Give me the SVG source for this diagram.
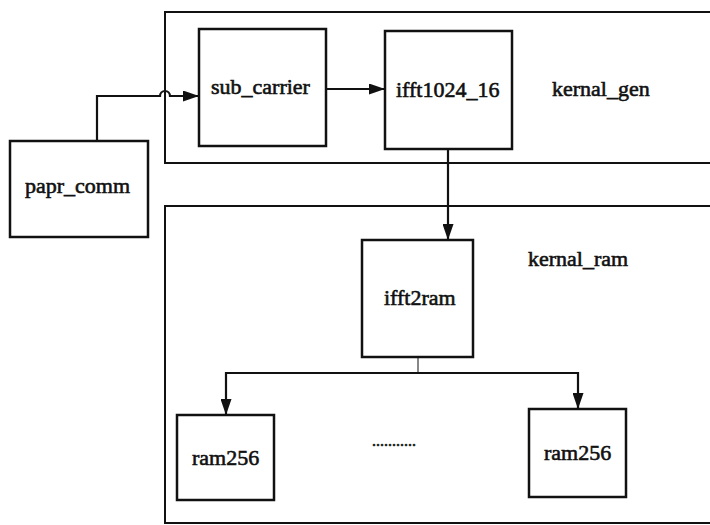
<svg xmlns="http://www.w3.org/2000/svg" width="710" height="525" viewBox="0 0 710 525">
<style>
.box{fill:none;stroke:#111;stroke-width:2.5}
.grp{fill:none;stroke:#111;stroke-width:2}
.ln{fill:none;stroke:#111;stroke-width:2.2}
.t{font-family:"Liberation Serif","Times New Roman",serif;font-size:22px;fill:#111;stroke:#111;stroke-width:0.6}
</style>
<defs>
<marker id="ah" viewBox="0 0 16 11" refX="16" refY="5.5" markerWidth="16" markerHeight="11" markerUnits="userSpaceOnUse" orient="auto">
<path d="M0,0 L16,5.5 L0,11 Z" fill="#111"/>
</marker>
</defs>
<rect width="710" height="525" fill="#fff"/>
<g id="kernal_gen">
<path class="grp" d="M712,12 L165,12 L165,163 L712,163"/>
<text class="t" x="552" y="96">kernal_gen</text>
</g>
<g id="kernal_ram">
<path class="grp" d="M712,206 L165,206 L165,523 L712,523"/>
<text class="t" x="528" y="266">kernal_ram</text>
</g>
<g id="papr_comm">
<rect class="box" x="10" y="141" width="138" height="96"/>
<text class="t" x="25" y="193">papr_comm</text>
</g>
<g id="sub_carrier">
<rect class="box" x="199" y="29" width="127" height="117"/>
<text class="t" x="211" y="94">sub_carrier</text>
</g>
<g id="ifft1024_16">
<rect class="box" x="385" y="31" width="127" height="118"/>
<text class="t" x="396" y="97">ifft1024_16</text>
</g>
<g id="ifft2ram">
<rect class="box" x="362" y="240" width="111" height="117"/>
<text class="t" x="384" y="305">ifft2ram</text>
</g>
<g id="ram256_1">
<rect class="box" x="177" y="415" width="97" height="85"/>
<text class="t" x="192" y="465">ram256</text>
</g>
<g id="ram256_2">
<rect class="box" x="529" y="409" width="97" height="88"/>
<text class="t" x="544" y="460">ram256</text>
</g>
<text class="t" x="372" y="446" style="font-size:16px;stroke-width:0.6">...........</text>
<g id="connectors">
<path class="ln" d="M97,141 L97,96 L160,96 A5,5 0 0 1 170,96 L199,96" marker-end="url(#ah)"/>
<path class="ln" d="M326,89 L385,89" marker-end="url(#ah)"/>
<path class="ln" d="M448,149 L448,240" marker-end="url(#ah)"/>
<path class="ln" d="M418,357 L418,373" style="stroke-width:1"/>
<path class="ln" d="M418,373 L226,373 L226,415" marker-end="url(#ah)"/>
<path class="ln" d="M418,373 L578,373 L578,409" marker-end="url(#ah)"/>
</g>
</svg>
